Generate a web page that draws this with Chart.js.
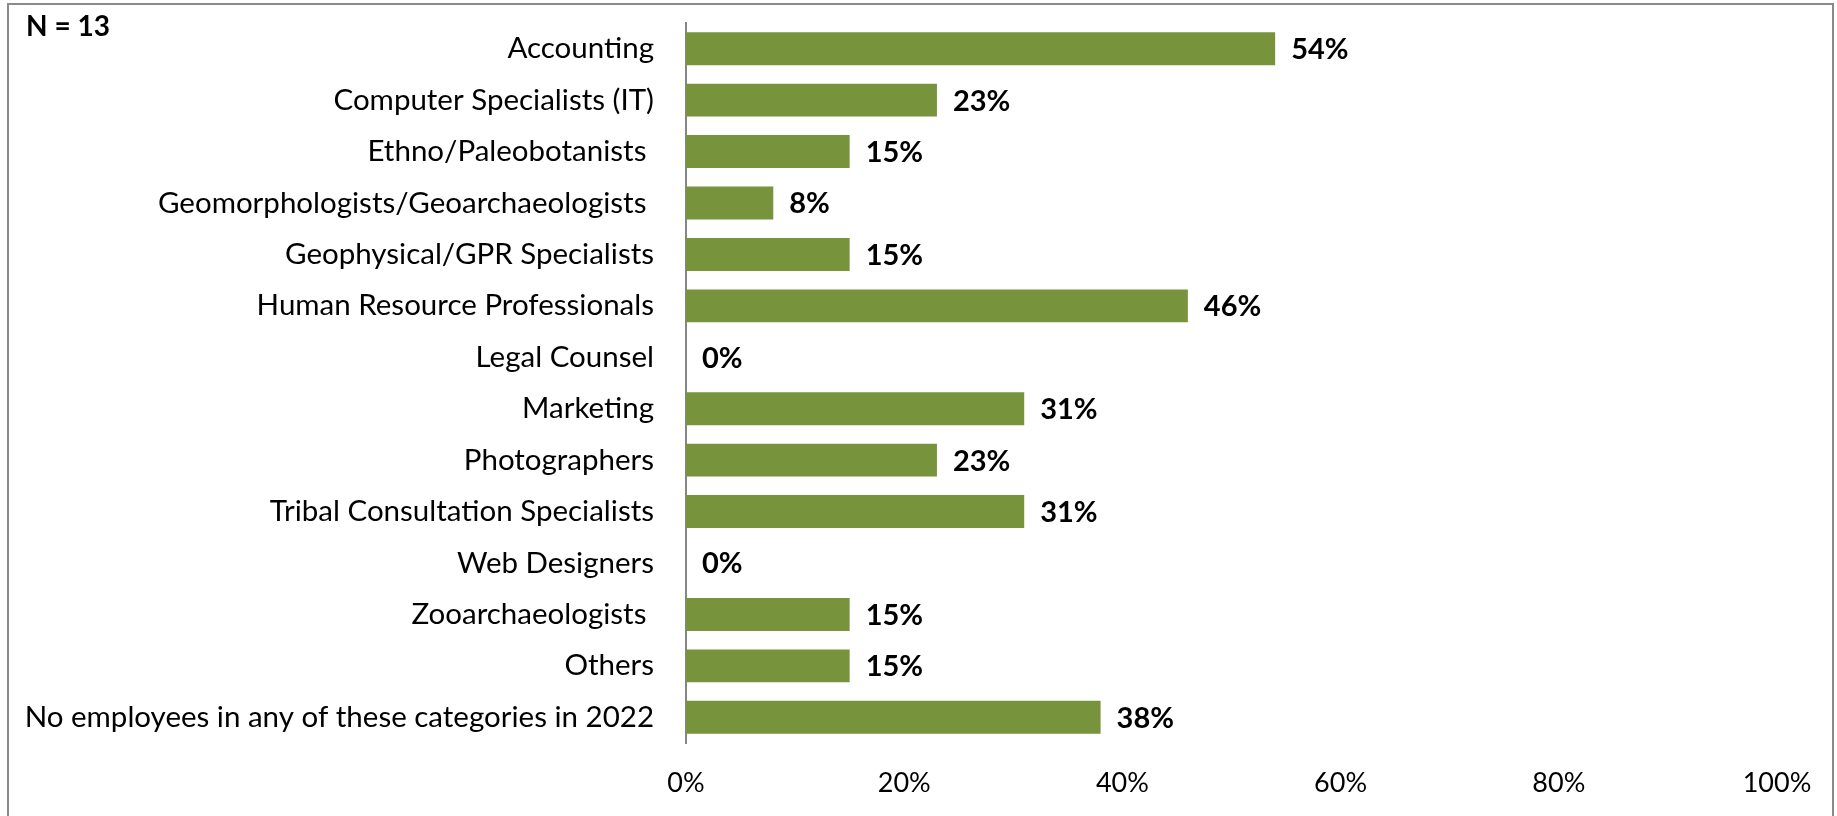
<!DOCTYPE html>
<html>
<head>
<meta charset="utf-8">
<script src="https://cdn.jsdelivr.net/npm/chart.js@4"></script>
<style>
  html, body { margin: 0; padding: 0; background: #fff; overflow: hidden; }
  #wrap { position: absolute; left: 0; top: 0; width: 1837px; height: 816px; }
  #frame { position: absolute; left: 7px; top: 3px; width: 1823px; height: 840px; border: 2px solid #8a8a8a; pointer-events: none; }
</style>
</head>
<body>
<div id="wrap"><canvas id="staffChart" width="1837" height="816"></canvas></div>
<div id="frame"></div>
<script>
const categories = [
  'Accounting',
  'Computer Specialists (IT)',
  'Ethno/Paleobotanists ',
  'Geomorphologists/Geoarchaeologists ',
  'Geophysical/GPR Specialists',
  'Human Resource Professionals',
  'Legal Counsel',
  'Marketing',
  'Photographers',
  'Tribal Consultation Specialists',
  'Web Designers',
  'Zooarchaeologists ',
  'Others',
  'No employees in any of these categories in 2022'
];
const shares = [54, 23, 15, 8, 15, 46, 0, 31, 23, 31, 0, 15, 15, 38];
const xTicks = [0, 20, 40, 60, 80, 100];
const sampleNote = 'N = 13';

const FONT = 'Lato, "Open Sans", sans-serif';

// value labels at the end of each bar, plus the sample size note
const barLabels = {
  id: 'barLabels',
  afterDatasetsDraw(chart) {
    const ctx = chart.ctx;
    const meta = chart.getDatasetMeta(0);
    ctx.save();
    ctx.font = 'bold 29px ' + FONT;
    ctx.fillStyle = '#000';
    ctx.textAlign = 'left';
    ctx.textBaseline = 'middle';
    meta.data.forEach((bar, i) => {
      ctx.fillText(shares[i] + '%', bar.x + 16, bar.y + 1);
    });
    ctx.font = 'bold 28px ' + FONT;
    ctx.textBaseline = 'middle';
    ctx.fillText(sampleNote, 26, 27);
    ctx.restore();
  }
};

new Chart(document.getElementById('staffChart').getContext('2d'), {
  type: 'bar',
  data: {
    labels: categories,
    datasets: [{
      data: shares,
      backgroundColor: '#77933c',
      borderWidth: 0,
      categoryPercentage: 0.64,
      barPercentage: 1
    }]
  },
  options: {
    indexAxis: 'y',
    responsive: false,
    animation: false,
    layout: { padding: { top: 23, right: 60, bottom: 0, left: 0 } },
    plugins: { legend: { display: false }, tooltip: { enabled: false } },
    scales: {
      x: {
        min: 0,
        max: 100,
        afterBuildTicks(scale) { scale.ticks = xTicks.map(v => ({ value: v })); },
        afterFit(scale) { scale.height = 73; },
        grid: { display: false, drawTicks: false },
        border: { display: false },
        ticks: {
          padding: 24,
          color: '#000',
          font: { family: FONT, size: 27 },
          callback: v => v + '%'
        }
      },
      y: {
        afterFit(scale) {
          scale.width = 686;
          scale.paddingTop = 0;
          scale.paddingBottom = 0;
        },
        grid: { display: false, drawTicks: false },
        border: { display: true, color: '#868686', width: 2 },
        ticks: {
          padding: 32,
          color: '#000',
          font: { family: FONT, size: 29.5 }
        }
      }
    }
  },
  plugins: [barLabels]
});
</script>
</body>
</html>
